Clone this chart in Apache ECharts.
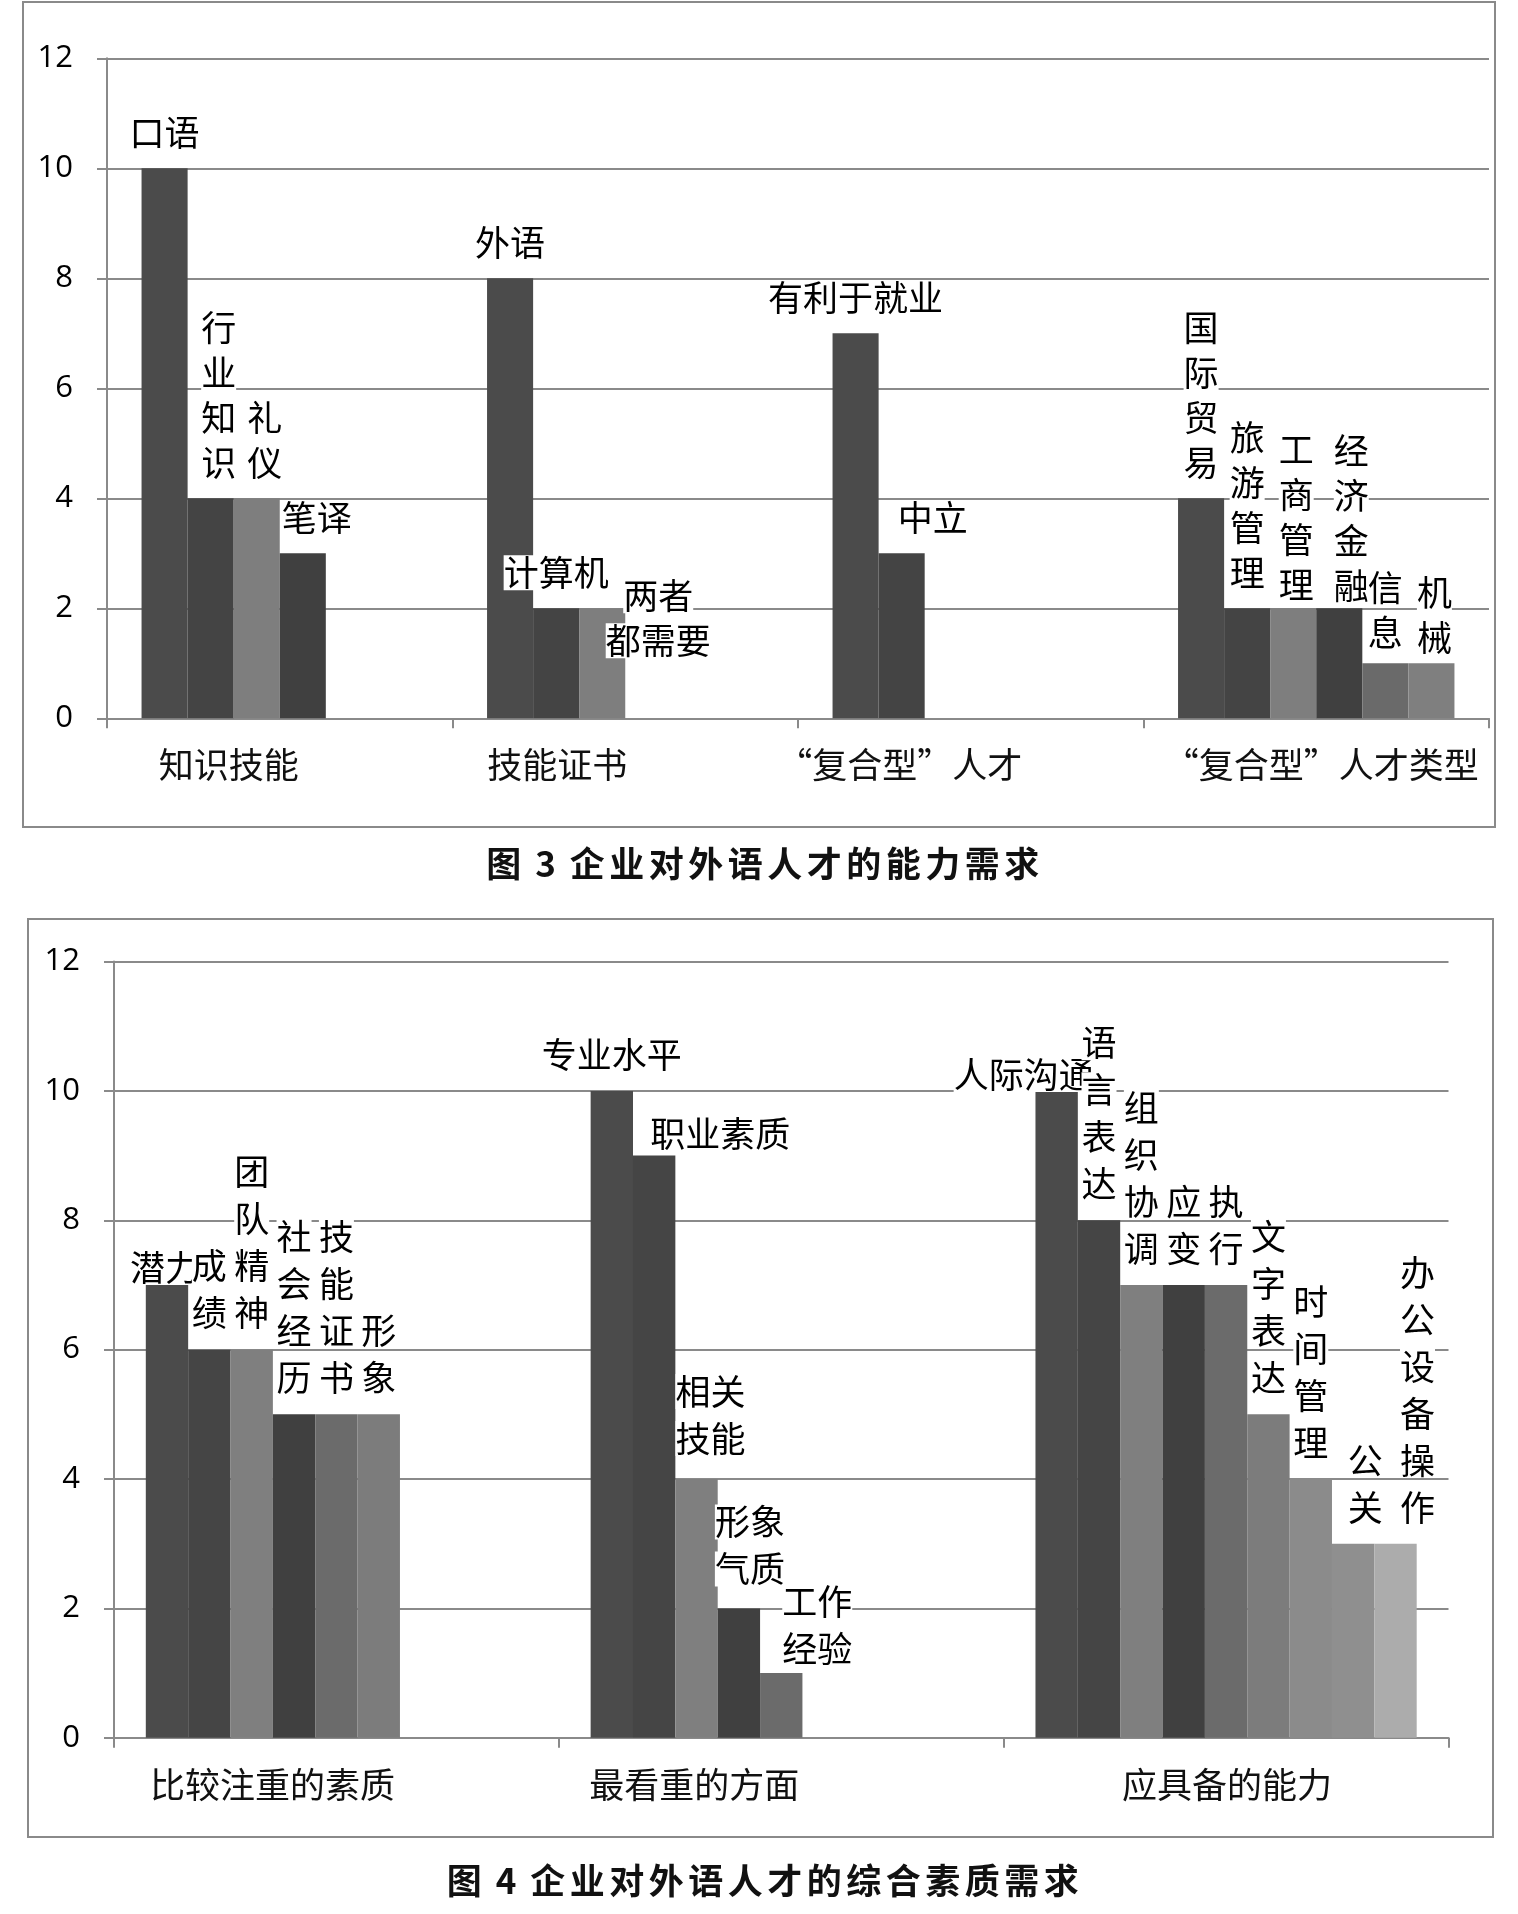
<!DOCTYPE html>
<html>
<head>
<meta charset="utf-8">
<script src="https://cdn.jsdelivr.net/npm/echarts@6/dist/echarts.min.js"></script>
<style>
body { margin: 0; background: #fff; }
#main { position: absolute; left: 0; top: 0; width: 1518px; height: 1914px; }
.caption {
  position: absolute; left: 0; width: 1530px; text-align: center;
  font-family: 'Noto Sans CJK SC'; font-size: 35px; font-weight: bold;
  letter-spacing: 4.5px; line-height: 40px; color: #111; white-space: pre;
}
.caption span { letter-spacing: 3px; }
</style>
</head>
<body>
<div id="main"></div>
<div class="caption" style="top:842px"><span>图 3 </span>企业对外语人才的能力需求</div>
<div class="caption" style="top:1859px"><span>图 4 </span>企业对外语人才的综合素质需求</div>
<script>
// 图3 企业对外语人才的能力需求
const fig3Categories = ['知识技能', '技能证书', '“复合型”人才', '“复合型”人才类型'];
const fig3Labels = [
  ['口语', '行\n业\n知\n识', '礼\n仪', '笔译'],
  ['外语', '计算机', '两者\n都需要'],
  ['有利于就业', '中立'],
  ['国\n际\n贸\n易', '旅\n游\n管\n理', '工\n商\n管\n理', '经\n济\n金\n融', '信\n息', '机\n械']
];
const fig3Values = [
  [10, 4, 4, 3],
  [8, 2, 2],
  [7, 3],
  [4, 2, 2, 2, 1, 1]
];

// 图4 企业对外语人才的综合素质需求
const fig4Categories = ['比较注重的素质', '最看重的方面', '应具备的能力'];
const fig4Labels = [
  ['潜力', '成\n绩', '团\n队\n精\n神', '社\n会\n经\n历', '技\n能\n证\n书', '形\n象'],
  ['专业水平', '职业素质', '相关\n技能', '形象\n气质', '工作\n经验'],
  ['人际沟通', '语\n言\n表\n达', '组\n织\n协\n调', '应\n变', '执\n行', '文\n字\n表\n达', '时\n间\n管\n理', '公\n关', '办\n公\n设\n备\n操\n作']
];
const fig4Values = [
  [7, 6, 6, 5, 5, 5],
  [10, 9, 4, 2, 1],
  [10, 8, 7, 7, 7, 5, 4, 3, 3]
];

const yMin = 0, yMax = 12, yStep = 2;

// layout tweaks
const CJK = 'Noto Sans CJK SC';
const gray = '#8a8a8a';
const fig3Colors = ['#4b4b4b', '#444444', '#7e7e7e', '#404040', '#6a6a6a', '#7f7f7f'];
const fig4Colors = ['#4b4b4b', '#454545', '#7f7f7f', '#404040', '#6b6b6b', '#7c7c7c', '#8b8b8b', '#8f8f8f', '#acacac'];
const fig3AxisShift = [-51, -68, -71, 5];
const fig4AxisShift = [-64, -87, 1];
// hand-moved data labels in the original: [dx, dy]
const labelNudge = {
  '行业知识': [8, 0], '礼仪': [8, 0], '笔译': [14, 0], '两者都需要': [56, 68], '中立': [31, 0],
  '工商管理': [3, 12], '经济金融': [12, 13], '信息': [0, 5], '机械': [3, 10],
  '潜力': [-2, 19], '职业素质': [66, 15], '相关技能': [14, -4], '形象气质': [11, -3],
  '工作经验': [36, 12], '人际沟通': [-33, 20], '公关': [12, 0], '办公设备操作': [22, 0]
};

function xAxisOf(idx, cats, shifts) {
  const rich = {};
  shifts.forEach((s, i) => {
    rich['c' + i] = {
      fontFamily: CJK, fontSize: 35, color: '#111',
      padding: s < 0 ? [0, -2 * s, 0, 0] : [0, 0, 0, 2 * s]
    };
  });
  return {
    type: 'category', gridIndex: idx, data: cats,
    axisLine: { lineStyle: { color: gray, width: 2 } },
    axisTick: { show: true, length: 10, interval: 0, lineStyle: { color: gray, width: 2 } },
    axisLabel: {
      interval: 0, margin: 29,
      formatter: (v, i) => '{c' + i + '|' + v + '}',
      rich: rich
    },
    splitLine: { show: false }
  };
}

function yAxisOf(idx) {
  return {
    type: 'value', gridIndex: idx, min: yMin, max: yMax, interval: yStep,
    axisLine: { show: true, lineStyle: { color: gray, width: 2 } },
    axisTick: { show: true, length: 10, lineStyle: { color: gray, width: 2 } },
    splitLine: { lineStyle: { color: gray, width: 2 } },
    axisLabel: { fontFamily: 'Open Sans', fontSize: 31, color: '#000', margin: 34 }
  };
}

function seriesOf(idx, labels, values, colors, lineH, gap) {
  const slots = Math.max(...values.map(r => r.length));
  const list = [];
  for (let s = 0; s < slots; s++) {
    list.push({
      type: 'bar', xAxisIndex: idx, yAxisIndex: idx,
      barGap: '0%', barCategoryGap: gap,
      itemStyle: { color: colors[s] },
      label: {
        show: true, position: 'top', distance: 13,
        formatter: p => p.data.text.split('\n').map(l => '{t|' + l + '}').join('\n'),
        rich: {
          t: { fontFamily: CJK, fontSize: 35, color: '#000', backgroundColor: '#fff', lineHeight: lineH }
        }
      },
      data: values.map((row, c) => {
        if (s >= row.length) return '-';
        const text = labels[c][s];
        const n = labelNudge[text.replace(/\n/g, '')] || [0, 0];
        return { value: row[s], text: text, label: { offset: n } };
      })
    });
  }
  return list;
}

const chart = echarts.init(document.getElementById('main'), null, { renderer: 'canvas' });
chart.setOption({
  backgroundColor: '#fff',
  animation: false,
  grid: [
    { left: 107, top: 58.3, width: 1382, height: 660 },
    { left: 114, top: 961.5, width: 1334.5, height: 776.3 }
  ],
  xAxis: [xAxisOf(0, fig3Categories, fig3AxisShift), xAxisOf(1, fig4Categories, fig4AxisShift)],
  yAxis: [yAxisOf(0), yAxisOf(1)],
  series: seriesOf(0, fig3Labels, fig3Values, fig3Colors, 45, '20%')
    .concat(seriesOf(1, fig4Labels, fig4Values, fig4Colors, 47, '14.3%')),
  graphic: [
    { type: 'rect', shape: { x: 23, y: 2, width: 1472, height: 825 }, style: { fill: 'none', stroke: gray, lineWidth: 2 } },
    { type: 'rect', shape: { x: 28, y: 919, width: 1465, height: 918 }, style: { fill: 'none', stroke: gray, lineWidth: 2 } }
  ]
});
</script>
</body>
</html>
